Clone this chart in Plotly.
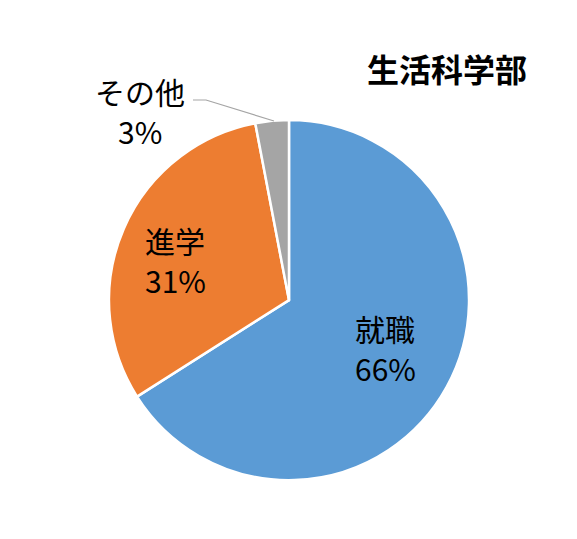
import plotly.graph_objects as go

# data
labels = ['就職', '進学', 'その他']
values = [66, 31, 3]
colors = ['#5B9BD5', '#ED7D31', '#A5A5A5']
title_text = '生活科学部'

jp_font = 'Noto Sans CJK JP'
W, H = 577, 539
OFF = 8  # page body margin


def px2paper(x, y):
    return (x - OFF) / W, 1 - (y - OFF) / H


fig = go.Figure()
fig.add_trace(go.Pie(
    labels=labels,
    values=values,
    sort=False,
    direction='clockwise',
    rotation=0,
    marker=dict(colors=colors, line=dict(color='white', width=2.5)),
    textinfo='none',
    domain=dict(x=[0.175, 0.799], y=[0.124, 0.792]),
    hoverinfo='label+percent',
    showlegend=False,
))

# data labels (label over percent) placed like the original
pct = [round(100 * v / sum(values)) for v in values]
label_pos = [(385, 348), (175, 260), (140, 111)]
for lab, p, (lx, ly) in zip(labels, pct, label_pos):
    for txt, dy in ((lab, -20), ('%d%%' % p, 20)):
        ax_, ay_ = px2paper(lx, ly + dy)
        fig.add_annotation(
            x=ax_, y=ay_, xref='paper', yref='paper',
            xanchor='center', yanchor='middle',
            text=txt, showarrow=False,
            font=dict(family=jp_font, size=30, color='black'),
        )

# leader line for the small slice
p1, p2, p3 = px2paper(193, 100), px2paper(206, 100), px2paper(274, 121)
fig.add_shape(type='path', xref='paper', yref='paper',
              path='M %f %f L %f %f L %f %f' % (p1 + p2 + p3),
              line=dict(color='#A5A5A5', width=1.2))

tx, ty = px2paper(447, 68)
fig.add_annotation(
    x=tx, y=ty, xref='paper', yref='paper',
    xanchor='center', yanchor='middle',
    text='<b>' + title_text + '</b>', showarrow=False,
    font=dict(family=jp_font, size=32, color='black'),
)

fig.update_layout(
    width=W, height=H,
    margin=dict(l=0, r=0, t=0, b=0),
    paper_bgcolor='white', plot_bgcolor='white',
)

fig.write_html('out.html')
